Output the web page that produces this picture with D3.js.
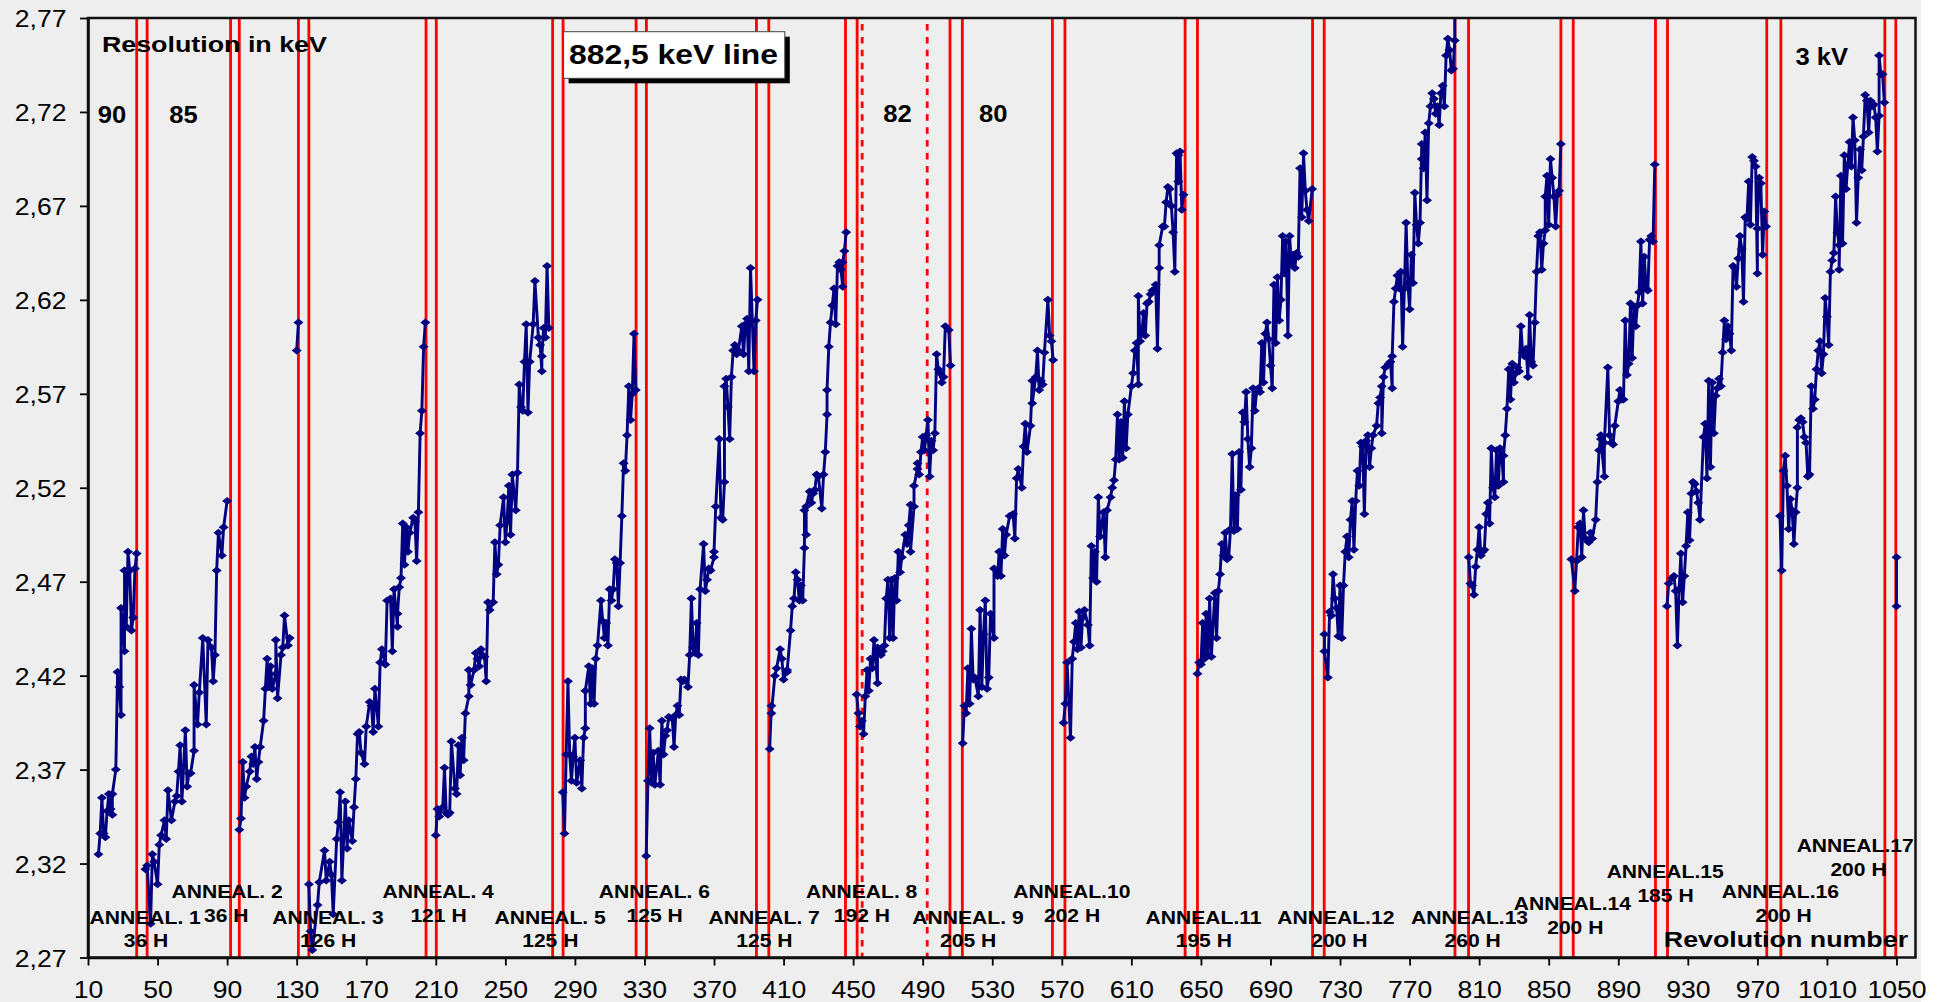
<!DOCTYPE html>
<html>
<head>
<meta charset="utf-8">
<script src="https://cdn.jsdelivr.net/npm/d3@7"></script>
<style>
  html, body { margin: 0; padding: 0; background: #ffffff; }
  svg { display: block; }
  text { font-family: "Liberation Sans", Arial, sans-serif; fill: #000; }
</style>
</head>
<body>
<div id="chart"></div>
<script>
// ---- values: [revolution, resolution keV] ----
const yTicks = [2.27, 2.32, 2.37, 2.42, 2.47, 2.52, 2.57, 2.62, 2.67, 2.72, 2.77];
const xTicks = [10, 50, 90, 130, 170, 210, 250, 290, 330, 370, 410, 450, 490, 530, 570, 610, 650, 690, 730, 770, 810, 850, 890, 930, 970, 1010, 1050];

const run1 = [[16,2.325],[17,2.336],[18,2.355],[19,2.336],[20,2.334],[21,2.348],[22,2.357],[23,2.349],[24,2.346],[24,2.357],[26,2.370],[27,2.422],[28,2.414],[29,2.399],[29,2.456],[31,2.433],[31,2.476],[32,2.446],[33,2.486],[34,2.476],[35,2.444],[36,2.451],[37,2.477],[38,2.485]];
const run2 = [[43,2.317],[44,2.319],[46,2.288],[47,2.325],[48,2.321],[50,2.309],[51,2.330],[52,2.335],[54,2.343],[55,2.333],[56,2.359],[58,2.343],[60,2.353],[61,2.356],[62,2.369],[63,2.383],[64,2.353],[66,2.391],[67,2.361],[68,2.368],[69,2.368],[71,2.380],[71,2.415],[73,2.394],[74,2.411],[76,2.440],[78,2.394],[79,2.439],[81,2.435],[82,2.417],[83,2.431],[84,2.476],[85,2.496],[87,2.484],[88,2.499],[90,2.513]];
const run3 = [[97,2.338],[98,2.344],[99,2.374],[100,2.355],[101,2.361],[103,2.369],[104,2.377],[105,2.373],[106,2.382],[107,2.365],[108,2.374],[109,2.382],[111,2.396],[112,2.413],[113,2.429],[114,2.414],[115,2.425],[116,2.413],[118,2.421],[118,2.439],[119,2.408],[121,2.431],[122,2.435],[123,2.452],[125,2.436],[126,2.440]];
const isolated3 = [[130,2.593],[131,2.608]];
const run4 = [[137,2.309],[138,2.284],[139,2.274],[142,2.298],[143,2.310],[146,2.327],[147,2.311],[149,2.321],[150,2.314],[151,2.293],[153,2.333],[154,2.342],[155,2.358],[156,2.311],[158,2.353],[159,2.328],[160,2.343],[162,2.332],[163,2.350],[164,2.365],[165,2.389],[166,2.390],[167,2.379],[169,2.373],[170,2.393],[172,2.406],[173,2.404],[174,2.390],[175,2.413],[177,2.393],[178,2.427],[179,2.434],[181,2.426],[182,2.460],[184,2.461],[185,2.433],[186,2.466],[188,2.446],[188,2.453],[189,2.467],[190,2.472],[191,2.501],[192,2.479],[193,2.499],[194,2.486],[195,2.496],[197,2.504],[198,2.502],[199,2.481],[200,2.507],[201,2.549],[202,2.561],[203,2.595],[204,2.608]];
const run5 = [[210,2.335],[211,2.349],[212,2.345],[214,2.350],[215,2.371],[216,2.347],[217,2.346],[218,2.347],[219,2.385],[221,2.360],[222,2.357],[223,2.383],[224,2.367],[225,2.387],[226,2.375],[227,2.400],[229,2.409],[229,2.423],[230,2.415],[232,2.423],[233,2.432],[234,2.429],[235,2.425],[236,2.434],[238,2.430],[239,2.417],[240,2.459],[241,2.455],[243,2.459],[244,2.491],[245,2.474],[246,2.479],[247,2.500],[249,2.515],[250,2.491],[251,2.502],[252,2.521],[253,2.495],[254,2.527],[256,2.508],[257,2.528],[258,2.575],[259,2.563],[260,2.561],[261,2.587],[262,2.607],[263,2.560],[264,2.587],[266,2.607],[267,2.630],[269,2.600],[270,2.596],[271,2.582],[271,2.590],[272,2.605],[273,2.600],[274,2.638],[275,2.605]];
const run6 = [[283,2.358],[284,2.336],[285,2.378],[286,2.417],[287,2.378],[288,2.364],[289,2.377],[290,2.387],[291,2.363],[293,2.375],[294,2.360],[295,2.387],[296,2.392],[296,2.412],[298,2.425],[299,2.405],[300,2.424],[301,2.405],[302,2.429],[303,2.436],[305,2.460],[306,2.449],[307,2.440],[308,2.448],[309,2.436],[310,2.466],[311,2.460],[312,2.466],[313,2.482],[314,2.480],[315,2.457],[316,2.480],[317,2.505],[318,2.533],[319,2.529],[320,2.548],[321,2.574],[322,2.556],[323,2.570],[324,2.602],[325,2.572]];
const run7 = [[331,2.324],[332,2.364],[333,2.392],[334,2.363],[335,2.379],[336,2.362],[338,2.380],[339,2.362],[340,2.396],[341,2.378],[342,2.388],[343,2.391],[344,2.398],[346,2.397],[347,2.382],[348,2.399],[349,2.404],[350,2.399],[351,2.418],[352,2.417],[353,2.418],[355,2.414],[356,2.431],[357,2.461],[358,2.435],[359,2.432],[360,2.448],[361,2.431],[362,2.466],[364,2.490],[365,2.465],[366,2.471],[367,2.477],[368,2.476],[370,2.483],[370,2.486],[371,2.510],[373,2.546],[374,2.504],[375,2.503],[376,2.523],[376,2.574],[377,2.578],[378,2.563],[379,2.546],[380,2.579],[381,2.593],[382,2.596],[383,2.591],[384,2.593],[386,2.606],[387,2.591],[388,2.607],[389,2.610],[390,2.582],[391,2.637],[393,2.582],[394,2.609],[395,2.620]];
const run8 = [[402,2.381],[403,2.404],[403,2.400],[405,2.420],[406,2.424],[408,2.434],[409,2.429],[410,2.418],[412,2.423],[412,2.422],[414,2.444],[415,2.457],[416,2.461],[417,2.475],[418,2.471],[419,2.460],[420,2.468],[421,2.460],[422,2.488],[422,2.508],[423,2.495],[423,2.510],[425,2.518],[426,2.512],[427,2.517],[428,2.519],[429,2.527],[430,2.526],[432,2.509],[433,2.527],[434,2.539],[435,2.559],[435,2.572],[436,2.595],[437,2.608],[438,2.617],[439,2.626],[440,2.607],[441,2.638],[442,2.640],[443,2.636],[444,2.627],[444,2.640],[445,2.646],[446,2.656]];
const run9 = [[452,2.410],[453,2.400],[454,2.393],[455,2.396],[456,2.389],[457,2.409],[458,2.423],[459,2.412],[460,2.429],[461,2.424],[462,2.439],[464,2.416],[464,2.435],[466,2.431],[467,2.433],[468,2.436],[469,2.461],[470,2.471],[471,2.440],[472,2.471],[473,2.440],[474,2.472],[475,2.460],[476,2.486],[477,2.475],[478,2.483],[480,2.495],[481,2.490],[482,2.500],[483,2.511],[483,2.486],[485,2.510],[485,2.521],[487,2.530],[487,2.533],[488,2.527],[489,2.539],[490,2.547],[491,2.540],[492,2.548],[493,2.556],[494,2.526],[495,2.545],[496,2.540],[497,2.549],[498,2.591],[499,2.583],[500,2.581],[501,2.576],[502,2.579],[503,2.606],[505,2.604],[506,2.585]];
const run10 = [[513,2.384],[514,2.404],[515,2.400],[516,2.424],[517,2.405],[518,2.445],[519,2.418],[520,2.419],[522,2.409],[523,2.455],[524,2.414],[525,2.442],[526,2.460],[527,2.413],[528,2.419],[529,2.453],[531,2.440],[531,2.477],[533,2.473],[534,2.486],[535,2.473],[536,2.498],[537,2.484],[538,2.495],[540,2.505],[542,2.506],[543,2.493],[544,2.525],[545,2.530],[547,2.520],[548,2.542],[549,2.554],[550,2.539],[552,2.553],[553,2.577],[553,2.565],[555,2.579],[556,2.593],[557,2.572],[558,2.577],[559,2.575],[560,2.592],[562,2.620],[563,2.601],[564,2.598],[565,2.588]];
const run11 = [[571,2.395],[572,2.405],[573,2.427],[575,2.387],[576,2.429],[577,2.438],[578,2.448],[579,2.434],[580,2.454],[581,2.435],[582,2.451],[583,2.455],[585,2.447],[586,2.436],[587,2.489],[588,2.472],[589,2.486],[590,2.470],[591,2.515],[592,2.494],[594,2.507],[595,2.483],[596,2.508],[598,2.515],[599,2.520],[600,2.524],[601,2.535],[602,2.559],[603,2.535],[604,2.555],[605,2.536],[606,2.566],[607,2.541],[608,2.559],[610,2.574],[611,2.581],[612,2.593],[613,2.597],[614,2.575],[614,2.622],[615,2.598],[616,2.602],[617,2.613],[618,2.601],[619,2.618],[620,2.619],[621,2.623],[622,2.625],[624,2.628],[625,2.594],[626,2.637],[626,2.649],[628,2.659],[629,2.659],[630,2.672],[631,2.680],[632,2.679],[633,2.670],[634,2.656],[635,2.635],[636,2.698],[637,2.683],[637,2.697],[638,2.699],[639,2.668],[640,2.676]];
const run12 = [[648,2.421],[649,2.427],[650,2.426],[651,2.448],[652,2.429],[653,2.453],[654,2.431],[655,2.461],[656,2.430],[658,2.464],[659,2.440],[660,2.465],[661,2.474],[662,2.490],[663,2.484],[664,2.496],[665,2.482],[666,2.483],[667,2.498],[668,2.538],[669,2.497],[670,2.516],[671,2.498],[672,2.539],[673,2.519],[674,2.560],[675,2.555],[676,2.571],[677,2.546],[678,2.531],[679,2.541],[680,2.573],[681,2.561],[682,2.571],[683,2.573],[684,2.571],[685,2.597],[686,2.576],[687,2.602],[688,2.608],[689,2.599],[690,2.585],[691,2.573],[692,2.628],[693,2.597],[694,2.632],[695,2.609],[696,2.620],[697,2.654],[698,2.634],[699,2.651],[700,2.601],[701,2.654],[702,2.639],[703,2.644],[704,2.637],[705,2.645],[706,2.643],[707,2.690],[708,2.664],[709,2.698],[710,2.678],[711,2.668],[712,2.662],[714,2.679]];
const run13 = [[721,2.442],[721,2.433],[723,2.419],[724,2.454],[725,2.452],[726,2.474],[727,2.461],[728,2.456],[729,2.441],[730,2.468],[731,2.440],[732,2.468],[733,2.486],[734,2.494],[735,2.483],[736,2.503],[737,2.513],[738,2.487],[739,2.513],[740,2.529],[741,2.521],[742,2.544],[743,2.542],[744,2.506],[745,2.545],[746,2.548],[747,2.531],[748,2.541],[749,2.548],[751,2.553],[752,2.565],[753,2.568],[754,2.574],[754,2.549],[755,2.579],[756,2.584],[758,2.586],[759,2.587],[760,2.573],[760,2.590],[761,2.619],[762,2.626],[763,2.633],[764,2.626],[765,2.635],[766,2.595],[767,2.626],[768,2.661],[769,2.629],[770,2.615],[771,2.644],[772,2.629],[773,2.677],[774,2.660],[775,2.650],[776,2.661],[777,2.703],[777,2.695],[778,2.690],[779,2.709],[780,2.673],[781,2.714],[782,2.723],[783,2.730],[784,2.727],[785,2.719],[786,2.723],[787,2.713],[788,2.730],[789,2.734],[790,2.723],[791,2.750],[792,2.759],[793,2.753],[794,2.742],[795,2.743],[796,2.758],[796,2.800]];
const run14 = [[804,2.483],[805,2.469],[806,2.468],[807,2.463],[808,2.478],[809,2.487],[810,2.499],[811,2.484],[812,2.486],[813,2.487],[814,2.506],[815,2.512],[816,2.501],[817,2.541],[818,2.520],[819,2.515],[820,2.540],[821,2.521],[822,2.541],[823,2.537],[824,2.523],[824,2.537],[825,2.548],[826,2.562],[827,2.583],[828,2.567],[829,2.586],[830,2.576],[831,2.581],[832,2.584],[833,2.582],[834,2.606],[835,2.592],[836,2.590],[837,2.594],[838,2.579],[839,2.612],[840,2.587],[841,2.585],[842,2.608],[843,2.635],[844,2.654],[845,2.656],[846,2.636],[847,2.650],[848,2.657],[848,2.675],[849,2.686],[850,2.660],[851,2.695],[852,2.685],[853,2.675],[854,2.659],[855,2.676],[856,2.678],[857,2.703]];
const run15 = [[863,2.482],[865,2.465],[866,2.481],[867,2.499],[868,2.501],[869,2.483],[870,2.508],[871,2.493],[873,2.491],[874,2.496],[875,2.493],[877,2.503],[878,2.523],[879,2.540],[880,2.548],[880,2.546],[882,2.526],[882,2.544],[884,2.584],[885,2.548],[886,2.544],[887,2.543],[888,2.553],[890,2.566],[891,2.572],[892,2.567],[893,2.567],[894,2.609],[895,2.580],[896,2.586],[897,2.618],[898,2.589],[899,2.616],[900,2.606],[901,2.617],[902,2.624],[903,2.651],[904,2.618],[905,2.643],[906,2.626],[907,2.625],[908,2.652],[909,2.654],[910,2.651],[911,2.692]];
const run16 = [[918,2.457],[919,2.469],[921,2.472],[922,2.473],[923,2.465],[924,2.436],[925,2.466],[926,2.485],[927,2.459],[928,2.473],[929,2.489],[930,2.507],[931,2.492],[932,2.517],[933,2.523],[934,2.522],[935,2.518],[936,2.512],[937,2.503],[939,2.547],[940,2.554],[941,2.525],[942,2.577],[943,2.531],[944,2.576],[945,2.549],[946,2.569],[947,2.573],[948,2.578],[949,2.574],[950,2.592],[951,2.609],[952,2.599],[953,2.606],[954,2.602],[955,2.593],[956,2.638],[957,2.637],[958,2.627],[959,2.642],[960,2.654],[961,2.647],[962,2.619],[963,2.664],[964,2.663],[965,2.683],[966,2.660],[967,2.696],[968,2.694],[969,2.691],[970,2.634],[970,2.658],[971,2.685],[972,2.682],[973,2.644],[974,2.667],[975,2.659]];
const run17 = [[983,2.505],[984,2.476],[985,2.529],[986,2.537],[987,2.521],[988,2.498],[989,2.514],[990,2.508],[991,2.490],[992,2.507],[993,2.520],[993,2.552],[994,2.556],[995,2.557],[996,2.555],[997,2.547],[998,2.544],[999,2.526],[1000,2.527],[1001,2.574],[1002,2.562],[1003,2.567],[1004,2.583],[1005,2.593],[1006,2.598],[1007,2.581],[1008,2.591],[1009,2.621],[1010,2.611],[1011,2.596],[1012,2.635],[1013,2.641],[1014,2.645],[1015,2.675],[1016,2.656],[1017,2.649],[1017,2.636],[1018,2.686],[1019,2.650],[1020,2.697],[1021,2.679],[1022,2.692],[1023,2.704],[1024,2.691],[1025,2.717],[1026,2.705],[1027,2.661],[1028,2.685],[1029,2.700],[1030,2.689],[1031,2.707],[1032,2.729],[1033,2.726],[1034,2.709],[1035,2.726],[1036,2.723],[1037,2.724],[1038,2.717],[1039,2.699],[1040,2.718],[1040,2.750],[1041,2.740],[1042,2.740],[1043,2.725]];
const tail = [[1050,2.483],[1050,2.457]];

// anneal periods (start / end revolution) and the two dotted markers
const annealLines = [[38,44],[92,97],[131,137],[204.4,210.3],[277.2,283.2],[325.2,331.1],[394.4,401.5],[445.6,452.3],[505.7,512.8],[564.6,571.8],[640.9,648],[714.2,720.9],[796.1,803.9],[857,864.1],[911.4,918.3],[975.4,983.5],[1043.3,1049.6]];
const dottedLines = [455.2, 492.6];
const annealNames = ["ANNEAL. 1","ANNEAL. 2","ANNEAL. 3","ANNEAL. 4","ANNEAL. 5","ANNEAL. 6","ANNEAL. 7","ANNEAL. 8","ANNEAL. 9","ANNEAL.10","ANNEAL.11","ANNEAL.12","ANNEAL.13","ANNEAL.14","ANNEAL.15","ANNEAL.16","ANNEAL.17"];
const annealHours = ["36 H","36 H","126 H","121 H","125 H","125 H","125 H","192 H","205 H","202 H","195 H","200 H","260 H","200 H","185 H","200 H","200 H"];
const voltLabels = ["90","85","82","80","3 kV"];

// ---- layout ----
const W = 1943, H = 1002;
const plot = { left: 88, right: 1915.5, top: 18, bottom: 957.5 };
// label anchors: [x line1, baseline line1, x line2, baseline line2]
const annealLabelPos = [
  [145.2,924,146,946.7],[227.1,898.4,226.3,922.4],[328,924,328.2,946.7],[438.2,898.4,438.5,922.4],
  [550.1,924,550.3,946.7],[654.4,898.4,654.6,922.4],[764.2,924,764.4,946.7],[861.7,898.4,861.9,922.4],
  [968,924,968.2,946.7],[1071.8,898.4,1072,922.4],[1203.6,924,1203.8,946.7],[1335.8,924,1339.3,946.7],
  [1469.5,924,1472.6,946.7],[1572.4,910,1575.3,934],[1665.2,877.7,1665.5,901.7],[1780.4,898.4,1783.6,921.7],
  [1855.2,851.7,1858.5,876]
];
const voltPos = [[97.8,122.7],[169.3,122.7],[883.3,121.7],[979,121.7],[1795.5,64.5]];

const svg = d3.select("#chart").append("svg")
  .attr("width", W).attr("height", H);

svg.append("rect").attr("x", 0).attr("y", 0)
  .attr("width", 1921).attr("height", H).attr("fill", "#eeeeee");

const x = d3.scaleLinear().domain([10, 1050]).range([plot.left, 1896.5]);
const y = d3.scaleLinear().domain([2.27, 2.77]).range([plot.bottom, plot.top]);

svg.append("clipPath").attr("id", "plotclip").append("rect")
  .attr("x", plot.left).attr("y", plot.top)
  .attr("width", plot.right - plot.left).attr("height", plot.bottom - plot.top);

// stretched text helper (the original lettering is wider than it is tall)
function label(g, px, py, str, size, sx, anchor, weight) {
  return g.append("text")
    .attr("transform", "translate(" + px + "," + py + ") scale(" + sx + ",1)")
    .attr("text-anchor", anchor)
    .style("font-size", size + "px")
    .style("font-weight", weight)
    .text(str);
}

// red anneal lines
const redG = svg.append("g").attr("class", "anneal-lines");
annealLines.forEach(function (pair) {
  pair.forEach(function (rev) {
    redG.append("line")
      .attr("x1", x(rev)).attr("x2", x(rev))
      .attr("y1", plot.top).attr("y2", plot.bottom)
      .attr("stroke", "#ff0000").attr("stroke-width", 2.8);
  });
});
dottedLines.forEach(function (rev) {
  redG.append("line")
    .attr("x1", x(rev)).attr("x2", x(rev))
    .attr("y1", plot.top + 6).attr("y2", plot.bottom)
    .attr("stroke", "#ff0000").attr("stroke-width", 2.8)
    .attr("stroke-dasharray", "6.5,6.4");
});

// data
const runs = [run1, run2, run3, isolated3, run4, run5, run6, run7, run8, run9, run10, run11, run12, run13, run14, run15, run16, run17, tail];
const line = d3.line().x(function (d) { return x(d[0]); }).y(function (d) { return y(d[1]); });
const dataG = svg.append("g").attr("clip-path", "url(#plotclip)");
runs.forEach(function (run) {
  dataG.append("path").datum(run)
    .attr("d", line)
    .attr("fill", "none")
    .attr("stroke", "#000080")
    .attr("stroke-width", 2.9)
    .attr("stroke-linejoin", "round");
});
const diamond = "M0,-4L5,0L0,4L-5,0Z";
runs.forEach(function (run) {
  dataG.selectAll(null).data(run).enter().append("path")
    .attr("d", diamond)
    .attr("transform", function (d) { return "translate(" + x(d[0]) + "," + y(d[1]) + ")"; })
    .attr("fill", "#000080");
});

// axes
const fmt = function (d) { return d3.format(".2f")(d).replace(".", ","); };
const yAxis = svg.append("g")
  .attr("transform", "translate(" + plot.left + ",0)")
  .call(d3.axisLeft(y).tickValues(yTicks).tickFormat(fmt).tickSize(8).tickSizeOuter(0));
yAxis.selectAll("text")
  .attr("x", -21.5 / 1.13).attr("dy", null).attr("y", 8.6)
  .attr("transform", "scale(1.13,1)")
  .style("font-size", "23.5px").style("font-family", "'Liberation Sans', Arial, sans-serif").attr("fill", "#000");

const xAxis = svg.append("g")
  .attr("transform", "translate(0," + plot.bottom + ")")
  .call(d3.axisBottom(x).tickValues(xTicks).tickFormat(d3.format("d")).tickSize(8).tickSizeOuter(0));
xAxis.selectAll("text")
  .attr("x", 0).attr("y", 40.5).attr("dy", null)
  .attr("transform", "scale(1.13,1)")
  .style("font-size", "23.5px").style("font-family", "'Liberation Sans', Arial, sans-serif").attr("fill", "#000");
svg.selectAll(".tick line").attr("stroke", "#000").attr("stroke-width", 1.8);
svg.selectAll(".domain").attr("stroke", "#000").attr("stroke-width", 2.5);

// plot border
svg.append("rect")
  .attr("x", plot.left).attr("y", plot.top)
  .attr("width", plot.right - plot.left).attr("height", plot.bottom - plot.top)
  .attr("fill", "none").attr("stroke", "#111").attr("stroke-width", 2.5);

// text
const txt = svg.append("g");
label(txt, 101.9, 51.7, "Resolution in keV", 22, 1.22, "start", "bold");
label(txt, 1908.1, 947, "Revolution number", 22, 1.22, "end", "bold");
voltLabels.forEach(function (v, i) {
  label(txt, voltPos[i][0], voltPos[i][1], v, 23.5, 1.09, "start", "bold");
});
annealNames.forEach(function (n, i) {
  const p = annealLabelPos[i];
  label(txt, p[0], p[1], n, 19, 1.11, "middle", "bold");
  label(txt, p[2], p[3], annealHours[i], 19, 1.11, "middle", "bold");
});

// title box with drop shadow
const box = svg.append("g");
box.append("rect").attr("x", 568.6).attr("y", 36.7).attr("width", 221.2).attr("height", 46.6).attr("fill", "#000");
box.append("rect").attr("x", 563.6).attr("y", 31.7).attr("width", 221.2).attr("height", 46.6)
  .attr("fill", "#ffffff").attr("stroke", "#444").attr("stroke-width", 1);
label(box, 569, 64, "882,5 keV line", 27, 1.18, "start", "bold");
</script>
</body>
</html>
